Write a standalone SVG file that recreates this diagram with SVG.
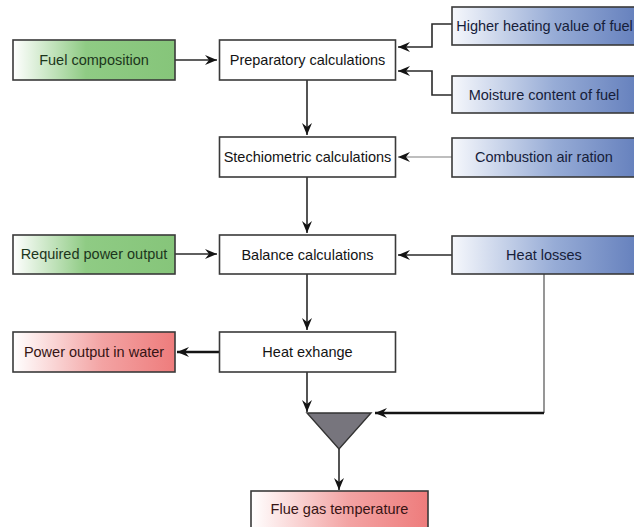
<svg xmlns="http://www.w3.org/2000/svg" width="634" height="527" viewBox="0 0 634 527">
<style>
.box{stroke:#3a3a3a;stroke-width:1.6}
.w{fill:#fff}
.g{fill:url(#gg)}
.b{fill:url(#gb)}
.r{fill:url(#gr)}
text{font-family:"Liberation Sans",Arial,sans-serif;font-size:14.5px;text-anchor:middle;dominant-baseline:central}
.tw{fill:#141414}
.tg{fill:#1c361c}
.tb{fill:#16203a}
.tr{fill:#361414}
.c{fill:none;stroke:#2a2a2a;stroke-width:1.6}
.cg{fill:none;stroke:#a8a8a8;stroke-width:1.6}
.cm{fill:none;stroke:#6a6a6a;stroke-width:1.4}
.ct{fill:none;stroke:#141414;stroke-width:2.4}
</style>
<defs>
<linearGradient id="gg" x1="0" y1="0" x2="1" y2="0">
<stop offset="0" stop-color="#ffffff"/>
<stop offset="0.45" stop-color="#8fcb84"/>
<stop offset="1" stop-color="#86c57a"/>
</linearGradient>
<linearGradient id="gb" x1="0" y1="0" x2="1" y2="0">
<stop offset="0" stop-color="#f6f8fc"/>
<stop offset="0.55" stop-color="#97acd6"/>
<stop offset="1" stop-color="#6580bd"/>
</linearGradient>
<linearGradient id="gr" x1="0" y1="0" x2="1" y2="0">
<stop offset="0" stop-color="#ffffff"/>
<stop offset="0.55" stop-color="#f3a3a3"/>
<stop offset="1" stop-color="#ee7c7c"/>
</linearGradient>
<marker id="ah" markerUnits="userSpaceOnUse" markerWidth="14" markerHeight="12" refX="12" refY="5" orient="auto">
<path d="M0,0 L12,5 L0,10 L4,5 z" fill="#141414"/>
</marker>
</defs>

<g id="connectors">
<path class="c" d="M175,60 H217" marker-end="url(#ah)"/>
<path class="c" d="M452,24 H432 V47 H398" marker-end="url(#ah)"/>
<path class="c" d="M452,95 H432 V71 H398" marker-end="url(#ah)"/>
<path class="c" d="M307,80 V135" marker-end="url(#ah)"/>
<path class="cg" d="M452,157 H398" marker-end="url(#ah)"/>
<path class="c" d="M307,177 V233" marker-end="url(#ah)"/>
<path class="c" d="M175,254 H217" marker-end="url(#ah)"/>
<path class="c" d="M452,255 H398" marker-end="url(#ah)"/>
<path class="c" d="M307,274 V330" marker-end="url(#ah)"/>
<path class="ct" d="M219,352 H177" marker-end="url(#ah)"/>
<path class="c" d="M307,372 V412" marker-end="url(#ah)"/>
<path class="cm" d="M544,274 V413"/>
<path class="ct" d="M544,413 H375" marker-end="url(#ah)"/>
<path class="c" d="M339,449 V490" marker-end="url(#ah)"/>
</g>

<g id="fuel-composition">
<rect class="box g" x="13" y="40" width="162" height="40"/>
<text class="tg" x="94" y="60">Fuel composition</text>
</g>
<g id="preparatory-calculations">
<rect class="box w" x="219.5" y="40" width="176" height="40"/>
<text class="tw" x="307.5" y="60">Preparatory calculations</text>
</g>
<g id="higher-heating-value">
<rect class="box b" x="452" y="7" width="186" height="38"/>
<text class="tb" x="544.5" y="26">Higher heating value of fuel</text>
</g>
<g id="moisture-content">
<rect class="box b" x="452" y="76" width="186" height="37"/>
<text class="tb" x="544" y="95">Moisture content of fuel</text>
</g>
<g id="stechiometric-calculations">
<rect class="box w" x="219.5" y="137" width="176" height="40"/>
<text class="tw" x="307.5" y="157">Stechiometric calculations</text>
</g>
<g id="combustion-air-ration">
<rect class="box b" x="452" y="138" width="186" height="39"/>
<text class="tb" x="544" y="157">Combustion air ration</text>
</g>
<g id="required-power-output">
<rect class="box g" x="13" y="235" width="162" height="39"/>
<text class="tg" x="94" y="254">Required power output</text>
</g>
<g id="balance-calculations">
<rect class="box w" x="219.5" y="235" width="176" height="39"/>
<text class="tw" x="307.5" y="254.5">Balance calculations</text>
</g>
<g id="heat-losses">
<rect class="box b" x="452" y="236" width="186" height="38"/>
<text class="tb" x="544" y="255">Heat losses</text>
</g>
<g id="power-output-in-water">
<rect class="box r" x="13" y="332" width="162" height="40"/>
<text class="tr" x="94" y="352">Power output in water</text>
</g>
<g id="heat-exhange">
<rect class="box w" x="219.5" y="332" width="176" height="40"/>
<text class="tw" x="307.5" y="352">Heat exhange</text>
</g>
<g id="mixer">
<polygon points="307,413 371,413 339,449" fill="#77757d" stroke="#333" stroke-width="1.4"/>
</g>
<g id="flue-gas-temperature">
<rect class="box r" x="251" y="491" width="177" height="42"/>
<text class="tr" x="339.5" y="509">Flue gas temperature</text>
</g>
</svg>
